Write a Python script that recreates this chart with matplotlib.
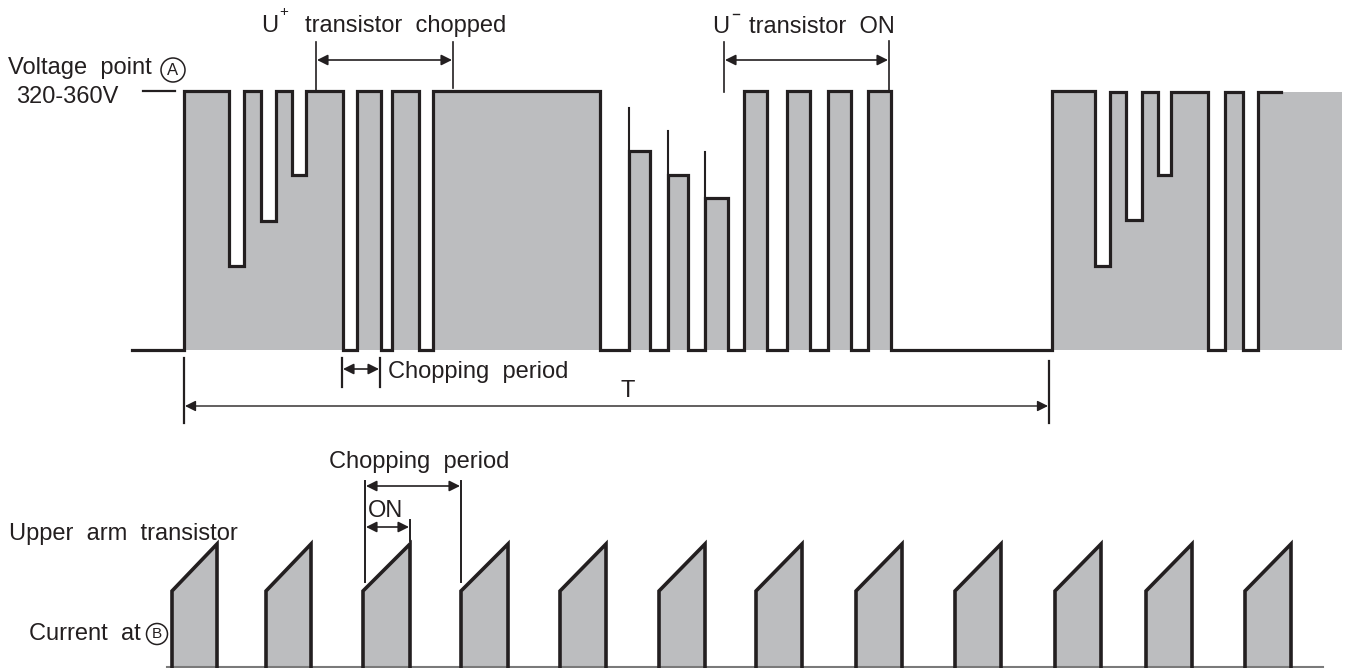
import matplotlib
matplotlib.use("Agg")
from matplotlib import pyplot as plt
from matplotlib.patches import Circle, Polygon

plt.rcParams['font.family'] = ['Liberation Sans', 'DejaVu Sans']

INK = '#231f20'
GREY = '#bcbdbf'

# voltage waveform at point A: (edge x, level after edge); 350 = 0V, 91 = 320-360V
top_start = 132
top_base = 350
top_edges = [184, 229, 244, 261, 276, 292, 306, 343, 357, 381, 392, 419, 433,
             600, 629, 650, 668, 688, 705, 728, 744, 767, 787, 810, 828, 851,
             868, 891, 1052, 1095, 1110, 1126, 1142, 1158, 1171, 1208, 1225,
             1243, 1258]
top_levels = [91, 266, 91, 221, 91, 175, 91, 350, 91, 350, 91, 350, 91,
              350, 151, 350, 175, 350, 198, 350, 91, 350, 91, 350, 91, 350,
              91, 350, 91, 266, 92, 220, 92, 175, 92, 350, 92,
              350, 92]
top_end = 1281
fill_end = 1342
spike_x = [629, 668, 705]
spike_top = [108, 131, 152]

# current at point B: pulses (left edge, right edge)
cur_left = [172, 266, 363, 461, 560, 659, 756, 856, 955, 1055, 1146, 1245]
cur_right = [217, 311, 410, 508, 606, 705, 802, 902, 1001, 1101, 1192, 1291]
cur_base = 666.5
cur_start = 591
cur_peak = 544


def dim_arrow(ax, x0, x1, y, lw=1.2):
    ax.annotate('', xy=(x1, y), xytext=(x0, y),
                arrowprops=dict(arrowstyle='<|-|>', color=INK, lw=lw,
                                mutation_scale=16, shrinkA=0, shrinkB=0))


fig = plt.figure(figsize=(13.47, 6.68), dpi=100)
ax = fig.add_axes([0, 0, 1, 1])
ax.set_xlim(0, 1347)
ax.set_ylim(668, 0)
ax.axis('off')

# build stepped outline
xs = [top_start]
ys = [top_base]
level = top_base
for x, lv in zip(top_edges, top_levels):
    xs += [x, x]
    ys += [level, lv]
    level = lv
xs.append(top_end)
ys.append(level)

ax.fill_between(xs + [fill_end], ys + [level], top_base, color=GREY, lw=0)
ax.plot(xs, ys, color=INK, lw=2.3, solid_joinstyle='miter')
for x, t in zip(spike_x, spike_top):
    ax.plot([x, x], [t, top_base], color=INK, lw=1.5)

# labels for voltage
ax.text(8, 74, 'Voltage  point', fontsize=17, color=INK, va='baseline')
ax.add_patch(Circle((173, 70), 12, fill=False, ec=INK, lw=1.1))
ax.text(173, 70.5, 'A', fontsize=12, color=INK, ha='center', va='center')
ax.text(16, 103, '320-360V', fontsize=17, color=INK, va='baseline')
ax.plot([143, 175], [91, 91], color=INK, lw=1.6)

ax.text(261, 32, 'U', fontsize=17, color=INK, va='baseline')
ax.text(279, 12, '+', fontsize=11, color=INK, va='center')
ax.text(305, 32, 'transistor  chopped', fontsize=17, color=INK, va='baseline')
ax.plot([316, 316], [42, 91], color=INK, lw=1.2)
ax.plot([453, 453], [42, 88], color=INK, lw=1.2)
dim_arrow(ax, 317, 452, 60)

ax.text(712, 33, 'U', fontsize=17, color=INK, va='baseline')
ax.plot([733, 739], [14, 14], color=INK, lw=1.0)
ax.text(749, 33, 'transistor  ON', fontsize=17, color=INK, va='baseline')
ax.plot([724, 724], [42, 92], color=INK, lw=1.2)
ax.plot([889, 889], [41, 90], color=INK, lw=1.2)
dim_arrow(ax, 725, 888, 60)

ax.plot([342, 342], [358, 387], color=INK, lw=1.6)
ax.plot([380, 380], [358, 387], color=INK, lw=1.6)
dim_arrow(ax, 343, 379, 369, lw=1.2)
ax.text(388, 378, 'Chopping  period', fontsize=17, color=INK, va='baseline')

ax.plot([184, 184], [358, 423], color=INK, lw=1.6)
ax.plot([1049, 1049], [361, 423], color=INK, lw=1.6)
dim_arrow(ax, 185, 1048, 406, lw=1.0)
ax.text(628, 397, 'T', fontsize=17, color=INK, ha='center', va='baseline')

# current waveform
ax.plot([167, 1323], [cur_base, cur_base], color='#7a7a7a', lw=1.5)
for l, r in zip(cur_left, cur_right):
    ax.add_patch(Polygon([(l, cur_base), (l, cur_start), (r, cur_peak), (r, cur_base)],
                         closed=True, fc=GREY, ec='none'))
    ax.plot([l, l, r, r], [cur_base, cur_start, cur_peak, cur_base],
            color=INK, lw=2.6, solid_joinstyle='miter')

ax.text(419, 468, 'Chopping  period', fontsize=17, color=INK, ha='center', va='baseline')
ax.plot([365, 365], [481, 582], color=INK, lw=1.4)
ax.plot([461, 461], [481, 582], color=INK, lw=1.4)
dim_arrow(ax, 366, 460, 486)
ax.text(368, 517, 'ON', fontsize=17, color=INK, va='baseline')
ax.plot([410, 410], [520, 541], color=INK, lw=1.4)
dim_arrow(ax, 366, 409, 527)

ax.text(9, 540, 'Upper  arm  transistor', fontsize=17, color=INK, va='baseline')
ax.text(29, 640, 'Current  at', fontsize=17, color=INK, va='baseline')
ax.add_patch(Circle((157, 634), 10.5, fill=False, ec=INK, lw=1.1))
ax.text(157, 634.5, 'B', fontsize=11, color=INK, ha='center', va='center')

fig.savefig('out.png', dpi=100)
